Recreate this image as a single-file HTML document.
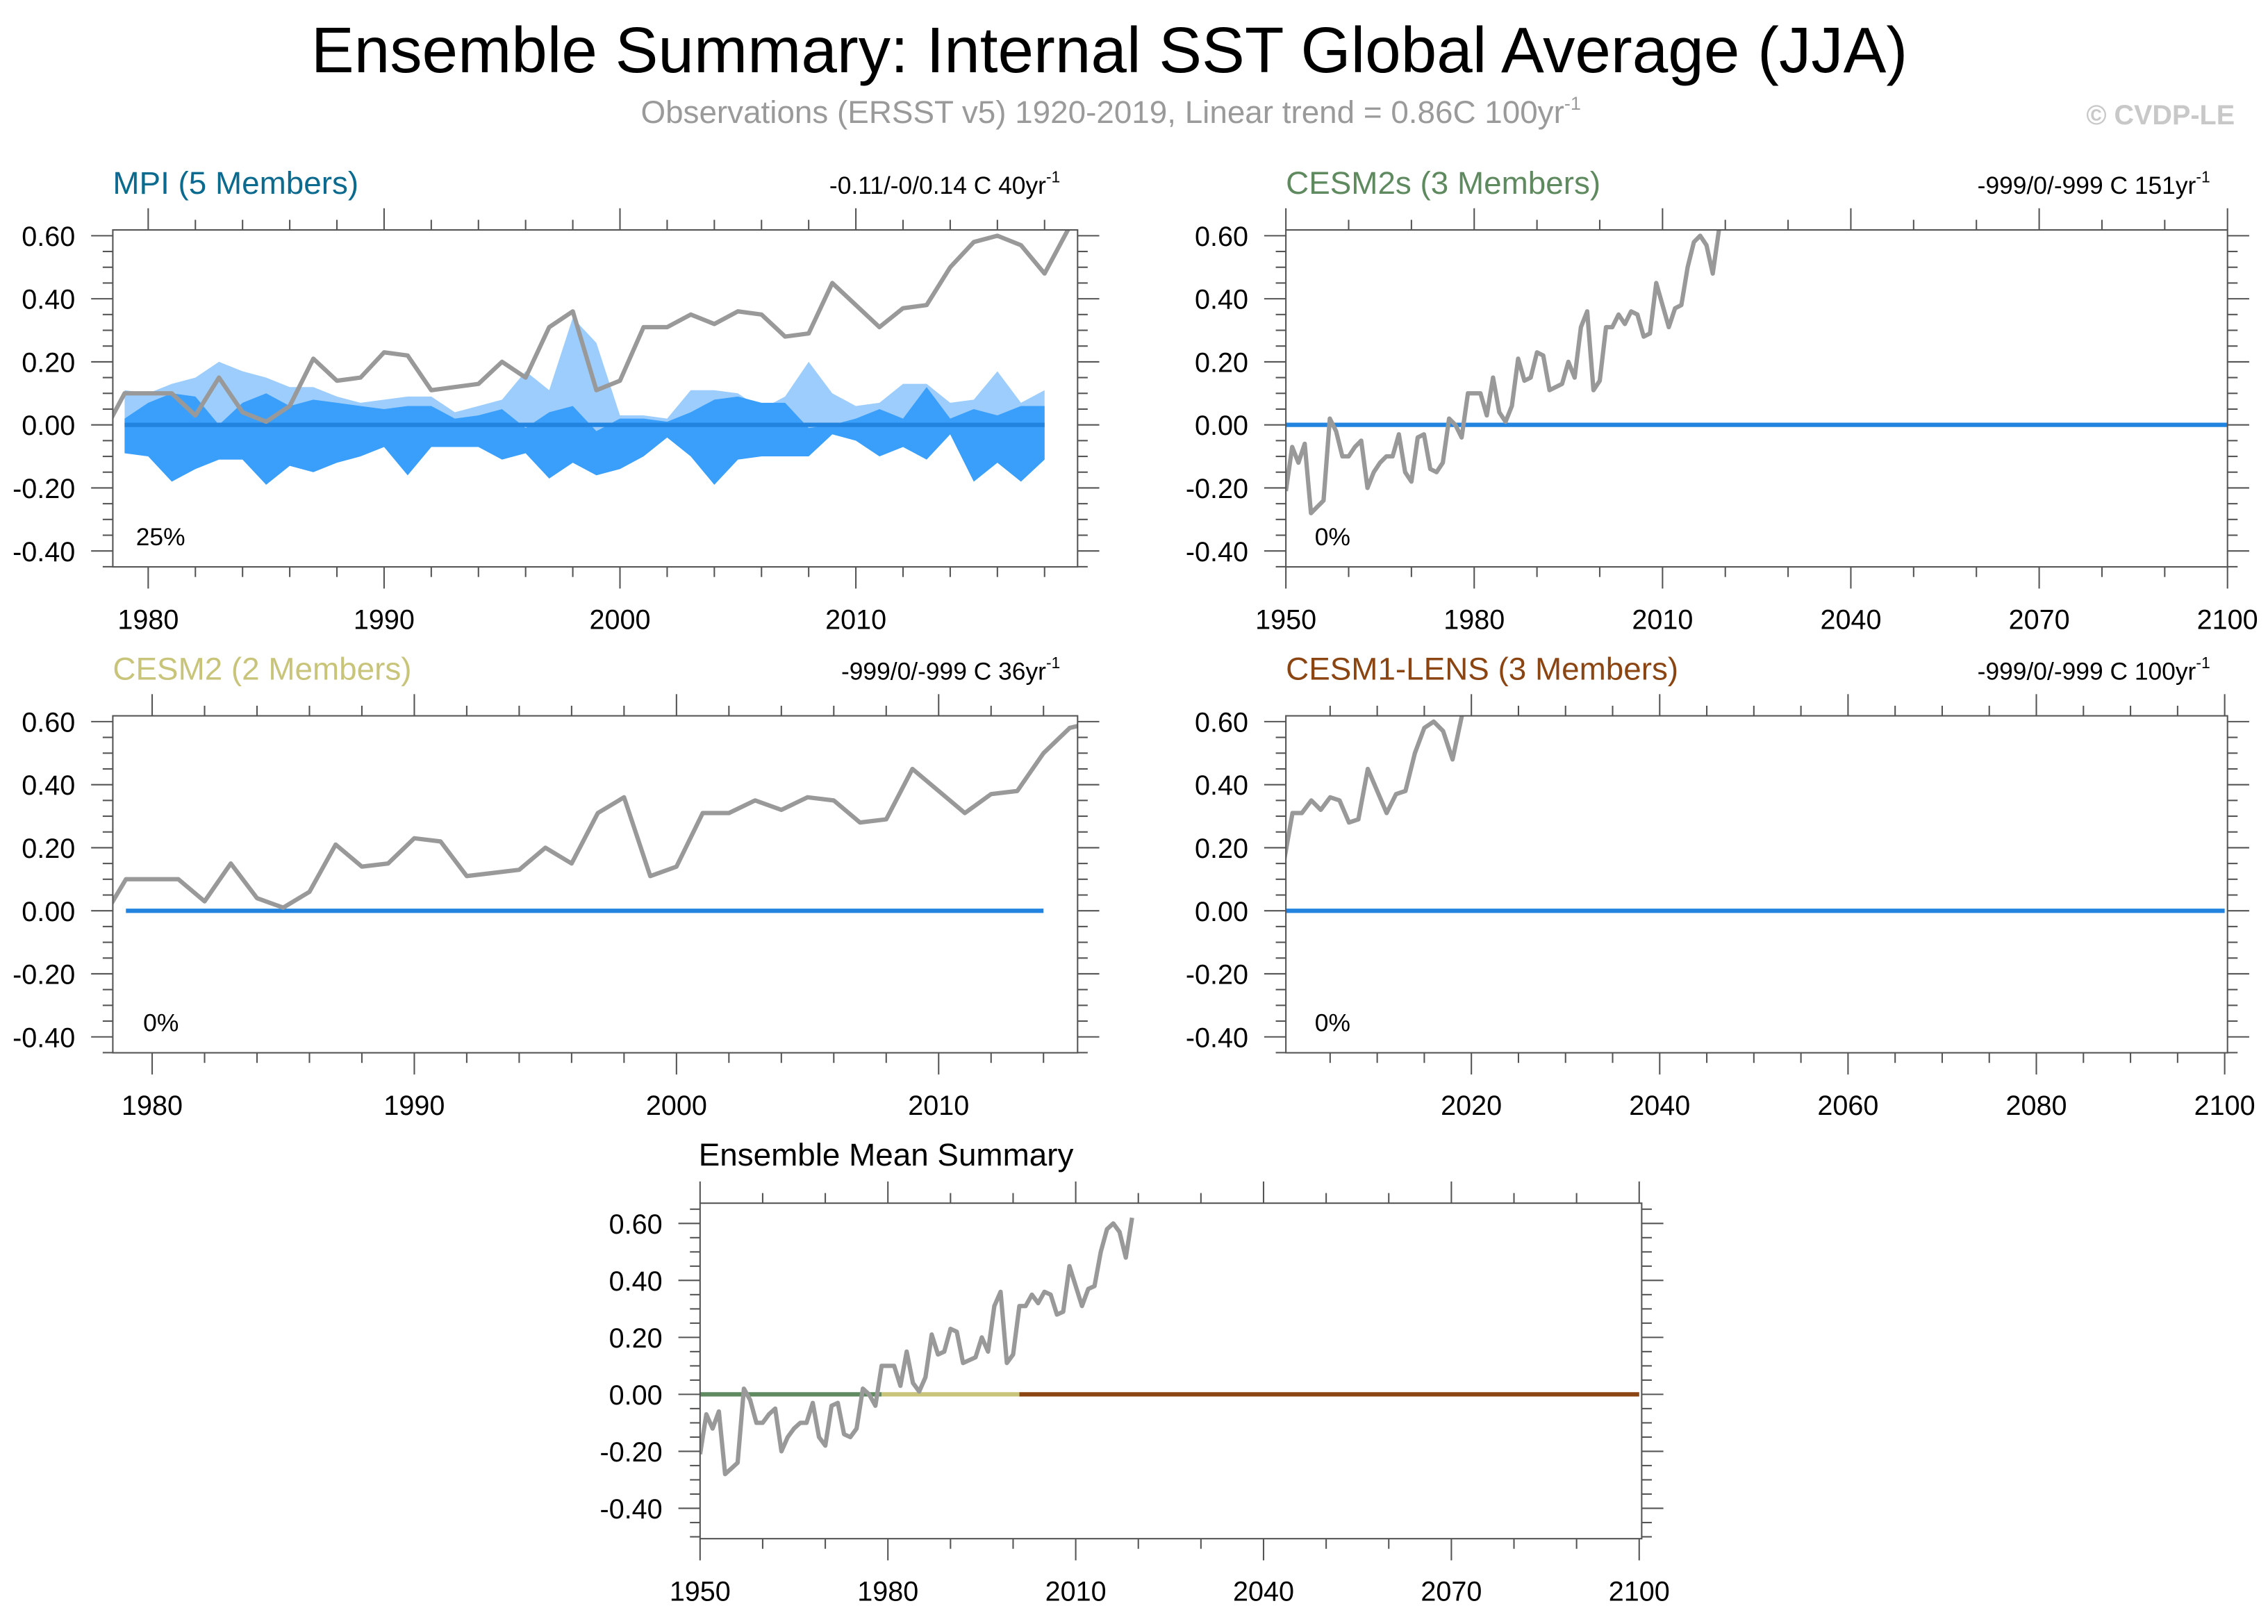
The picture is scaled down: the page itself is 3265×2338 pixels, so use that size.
<!DOCTYPE html>
<html><head><meta charset="utf-8"><style>
html,body{margin:0;padding:0;background:#fff}
svg{display:block}
text{font-family:"Liberation Sans",sans-serif}
</style></head><body>
<svg id="chart" xmlns="http://www.w3.org/2000/svg" width="3265" height="2338" viewBox="0 0 1568 1123" preserveAspectRatio="none">
<rect width="1568" height="1123" fill="#fff"/>
<text x="767" y="50" font-size="44.5" text-anchor="middle" fill="#000">Ensemble Summary: Internal SST Global Average (JJA)</text>
<text x="768" y="85" font-size="22" text-anchor="middle" fill="#9a9a9a">Observations (ERSST v5) 1920-2019, Linear trend = 0.86C 100yr<tspan dy="-9" font-size="13">-1</tspan></text>
<text x="1545" y="86" font-size="19" font-weight="bold" text-anchor="end" fill="#c8c8c8">© CVDP-LE</text>
<g id="panels"></g>
</svg>
<script>
const obsStartYear = 1950;
const obsValues = [-0.21,-0.07,-0.12,-0.06,-0.28,-0.26,-0.24,0.02,-0.02,-0.10,-0.10,-0.07,-0.05,-0.20,-0.15,-0.12,-0.10,-0.10,-0.03,-0.15,-0.18,-0.04,-0.03,-0.14,-0.15,-0.12,0.02,0.00,-0.04,
0.10,0.10,0.10,0.03,0.15,0.04,0.01,0.06,0.21,0.14,0.15,0.23,0.22,0.11,0.12,0.13,0.20,0.15,0.31,0.36,0.11,0.14,0.31,0.31,0.35,0.32,0.36,0.35,0.28,0.29,0.45,0.38,0.31,0.37,0.38,0.50,0.58,0.60,0.57,0.48,0.62];
const mpiStartYear = 1979;
const mpiLightUpper = [0.11,0.10,0.13,0.15,0.20,0.17,0.15,0.12,0.12,0.09,0.07,0.08,0.09,0.09,0.04,0.06,0.08,0.17,0.11,0.34,0.26,0.03,0.03,0.02,0.11,0.11,0.10,0.05,0.09,0.20,0.10,0.06,0.07,0.13,0.13,0.07,0.08,0.17,0.07,0.11];
const mpiDarkUpper = [0.02,0.07,0.10,0.09,0.00,0.07,0.10,0.06,0.08,0.07,0.06,0.05,0.06,0.06,0.02,0.03,0.05,-0.01,0.04,0.06,-0.02,0.02,0.02,0.01,0.04,0.08,0.09,0.07,0.07,-0.01,0.00,0.02,0.05,0.02,0.12,0.02,0.05,0.03,0.06,0.06];
const mpiLower = [-0.09,-0.10,-0.18,-0.14,-0.11,-0.11,-0.19,-0.13,-0.15,-0.12,-0.10,-0.07,-0.16,-0.07,-0.07,-0.07,-0.11,-0.09,-0.17,-0.12,-0.16,-0.14,-0.10,-0.04,-0.10,-0.19,-0.11,-0.10,-0.10,-0.10,-0.03,-0.05,-0.10,-0.07,-0.11,-0.03,-0.18,-0.12,-0.18,-0.11];
const yTickValues = [0.6,0.4,0.2,0,-0.2,-0.4];
const yTickLabels = ["0.60","0.40","0.20","0.00","-0.20","-0.40"];
const meanSegments5 = [[1950,1979,"#5f8a5f"],[1979,2001,"#c8c47a"],[2001,2100,"#8b4513"]];

const NS="http://www.w3.org/2000/svg";
const root=document.getElementById('panels');
function mk(tag,attrs,parent){const e=document.createElementNS(NS,tag);for(const k in attrs)e.setAttribute(k,attrs[k]);(parent||root).appendChild(e);return e;}

const panels=[
 {name:"mpi",title:"MPI (5 Members)",color:"#0b6a8e",trend:"-0.11/-0/0.14 C 40yr",L:78,R:745,T:159,B:392,ty:134,x0:1978.5,x1:2019.4,yAt06:163,yAtm04:381,
  majors:[1980,1990,2000,2010],minor:2,pct:"25%",px:94,py:377,mean:[[1979,2018,"#2384e0"]],bands:true},
 {name:"cesm2s",title:"CESM2s (3 Members)",color:"#5f8a5f",trend:"-999/0/-999 C 151yr",L:889,R:1540,T:159,B:392,ty:134,x0:1950,x1:2100,yAt06:163,yAtm04:381,
  majors:[1950,1980,2010,2040,2070,2100],minor:10,pct:"0%",px:909,py:377,mean:[[1950,2100,"#2384e0"]]},
 {name:"cesm2",title:"CESM2 (2 Members)",color:"#c8c47a",trend:"-999/0/-999 C 36yr",L:78,R:745,T:495,B:728,ty:470,x0:1978.5,x1:2015.3,yAt06:499,yAtm04:717,
  majors:[1980,1990,2000,2010],minor:2,pct:"0%",px:99,py:713,mean:[[1979,2014,"#2384e0"]]},
 {name:"cesm1-lens",title:"CESM1-LENS (3 Members)",color:"#8b4513",trend:"-999/0/-999 C 100yr",L:889,R:1540,T:495,B:728,ty:470,x0:2000.3,x1:2100.3,yAt06:499,yAtm04:717,
  majors:[2020,2040,2060,2080,2100],minor:5,pct:"0%",px:909,py:713,mean:[[2000,2100,"#2384e0"]]},
 {name:"ensemble-mean",title:"Ensemble Mean Summary",color:"#000",trend:"",L:484,R:1135,T:832,B:1064,ty:806,x0:1950,x1:2100.4,yAt06:846,yAtm04:1043,
  majors:[1950,1980,2010,2040,2070,2100],minor:10,pct:"",mean:meanSegments5,titleX:483}
];

panels.forEach((p,i)=>{
 const g=mk('g',{});
 
 
 const X=v=>p.L+(v-p.x0)/(p.x1-p.x0)*(p.R-p.L);
 const Y=v=>p.yAt06+(0.6-v)/1.0*(p.yAtm04-p.yAt06);
 const vTop=0.6-(p.T-p.yAt06)/(p.yAtm04-p.yAt06), vBot=0.6-(p.B-p.yAt06)/(p.yAtm04-p.yAt06);
 const cp=mk('clipPath',{id:'clip'+i},g);
 mk('rect',{x:p.L,y:p.T,width:p.R-p.L,height:p.B-p.T},cp);
 const t=mk('text',{x:p.titleX||p.L,y:p.ty,'font-size':22,fill:p.color},g);t.textContent=p.title;
 
 
 if(p.trend){const tr=mk('text',{x:p.R-12,y:p.ty,'font-size':17,'text-anchor':'end',fill:'#000'},g);
  tr.textContent=p.trend;const s=mk('tspan',{dy:-8,'font-size':11},tr);s.textContent='-1';
  
  }
 const plot=mk('g',{'clip-path':'url(#clip'+i+')'},g);
 if(p.bands){
  const n=mpiLightUpper.length;
  const band=(up,lo,col,nm)=>{let d='';for(let k=0;k<n;k++)d+=(k?'L':'M')+X(mpiStartYear+k)+','+Y(up[k]);
   for(let k=n-1;k>=0;k--)d+='L'+X(mpiStartYear+k)+','+Y(lo[k]);
   const e=mk('path',{d:d+'Z',fill:col},plot);
   
   };
  band(mpiLightUpper,mpiLower,'#9dcdfc','ensemble-spread-light');
  band(mpiDarkUpper,mpiLower,'#3a9ffb','ensemble-spread-dark');
 }
 p.mean.forEach(s=>{const e=mk('line',{x1:X(s[0]),x2:X(s[1]),y1:Y(0),y2:Y(0),stroke:s[2],'stroke-width':3},plot);
  
  });
 let d='';obsValues.forEach((v,k)=>{d+=(k?'L':'M')+X(obsStartYear+k).toFixed(2)+','+Y(v).toFixed(2);});
 const ob=mk('path',{d:d,fill:'none',stroke:'#999','stroke-width':3,'stroke-linejoin':'round'},plot);
 
 
 mk('rect',{x:p.L,y:p.T,width:p.R-p.L,height:p.B-p.T,fill:'none',stroke:'#555','stroke-width':1},g);
 for(let v=Math.ceil(vBot*20)/20;v<=vTop+1e-9;v+=0.05){
  const y=Y(v);const maj=Math.abs(Math.round(v*20)%4)===0;const len=maj?15:7;
  mk('line',{x1:p.L-len,x2:p.L,y1:y,y2:y,stroke:'#555','stroke-width':1},g);
  mk('line',{x1:p.R,x2:p.R+len,y1:y,y2:y,stroke:'#555','stroke-width':1},g);
 }
 yTickValues.forEach((v,k)=>{const e=mk('text',{x:p.L-26,y:Y(v)+7,'font-size':19,'text-anchor':'end',fill:'#000'},g);e.textContent=yTickLabels[k];
  
  });
 for(let yr=Math.ceil(p.x0/p.minor)*p.minor;yr<=p.x1;yr+=p.minor){
  const x=X(yr);const maj=p.majors.includes(yr);const len=maj?15:7;
  mk('line',{x1:x,x2:x,y1:p.T-len,y2:p.T,stroke:'#555','stroke-width':1},g);
  mk('line',{x1:x,x2:x,y1:p.B,y2:p.B+len,stroke:'#555','stroke-width':1},g);
 }
 p.majors.forEach(yr=>{const e=mk('text',{x:X(yr),y:p.B+43,'font-size':19,'text-anchor':'middle',fill:'#000'},g);e.textContent=yr;
  
  });
 if(p.pct){const e=mk('text',{x:p.px,y:p.py,'font-size':17,fill:'#000'},g);e.textContent=p.pct;
  
  }
});
</script>
</body></html>
